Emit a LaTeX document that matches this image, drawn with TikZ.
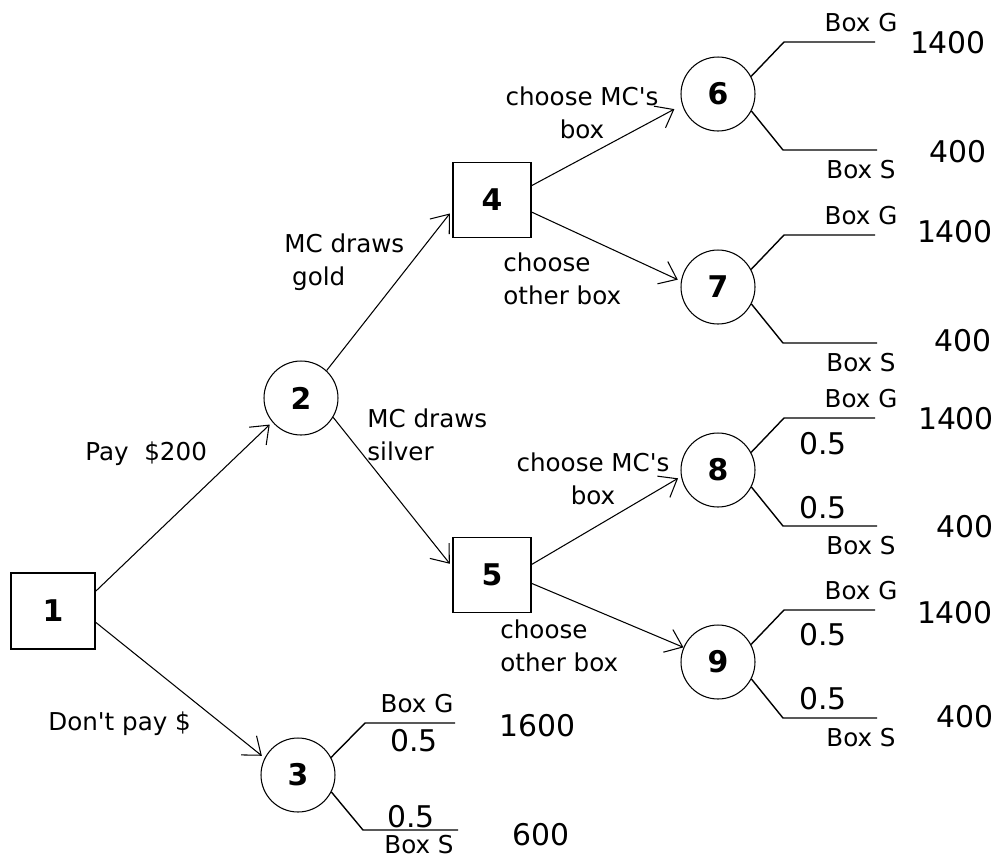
\documentclass[tikz,border=0pt]{standalone}
\usepackage{fontspec}
\setmainfont{DejaVu Sans}
\usetikzlibrary{arrows.meta}

\tikzset{
  decision/.style={draw, line width=1.1pt, minimum width=1.56cm, minimum height=1.5cm,
    inner sep=0pt, font=\fontsize{17}{17}\selectfont\bfseries},
  chance/.style={draw, circle, line width=0.6pt, minimum size=1.48cm,
    inner sep=0pt, font=\fontsize{17}{17}\selectfont\bfseries},
  move/.style={-{Straight Barb[length=9pt,width=14pt]}, line width=0.6pt, shorten >=2pt},
  branch/.style={line width=0.8pt},
  lbl/.style={font=\fontsize{14}{18.5}\selectfont, inner sep=0pt},
  payoff/.style={font=\fontsize{17}{20}\selectfont, inner sep=0pt},
}

\begin{document}
\begin{tikzpicture}[x=0.02cm, y=-0.02cm]
    \useasboundingbox (0,0) rectangle (1001,860);

    % decisions and first chance nodes
    \node[decision, minimum width=1.68cm, minimum height=1.52cm] (n1) at (53,611) {1};
    \node[chance] (n2) at (301,398) {2};
    \node[chance] (n3) at (298,775) {3};
    \node[decision] (n4) at (492,200) {4};
    \node[decision] (n5) at (492,575) {5};

    % last chance nodes, each with a gold and a silver branch
    \foreach \n/\y in {6/94,7/287,8/470,9/662} {
      \node[chance] (n\n) at (718,\y) {\n};
      \draw[branch] (n\n.28) -- (784,\y-52) -- (875,\y-52);
      \draw[branch] (n\n.-27) -- (783,\y+56) -- (877,\y+56);
      \node[lbl] (g\n) at (861,\y-71) {Box G};
      \node[lbl] (s\n) at (861,\y+76) {Box S};
    }

    % branches of node 3
    \draw[branch] (n3.28) -- (365,723) -- (455,723);
    \draw[branch] (n3.-27) -- (363,830) -- (458,830);
    \node[lbl] (g3) at (417,704) {Box G};
    \node[lbl] (s3) at (419,845) {Box S};

    % moves
    \draw[move] (n1.25) -- (n2.220);
    \draw[move] (n1.-15) -- (n3.153);
    \draw[move] (n2.47) -- (n4.195);
    \draw[move] (n2.-31) -- (n5.168);
    \draw[move, shorten >=5pt] (n4.20) -- (n6.197);
    \draw[move] (n4.-17) -- (n7.171);
    \draw[move] (n5.15) -- (n8.190);
    \draw[move, shorten >=0pt] (n5.-12) -- (n9.157);

    % move labels (base is the last line)
    \node[lbl, anchor=base west] (pay) at (85,460) {Pay\ \ \$200};
    \node[lbl, anchor=base west] (nopay) at (48,730) {Don\textquotesingle t pay \$};
    \node[lbl, anchor=base west, align=left] (gold) at (284,285) {MC draws\\\ gold};
    \node[lbl, anchor=base west, align=left] (silver) at (367,460) {MC draws\\silver};
    \node[lbl, anchor=base, align=center] (keep4) at (582,138) {choose MC\textquotesingle s\\box};
    \node[lbl, anchor=base west, align=left] (swap4) at (503,304) {choose\\other box};
    \node[lbl, anchor=base, align=center] (keep5) at (593,504) {choose MC\textquotesingle s\\box};
    \node[lbl, anchor=base west, align=left] (swap5) at (500,671) {choose\\other box};

    % probabilities
    \node[payoff] (p3g) at (414,741) {0.5};
    \node[payoff] (p3s) at (411,817) {0.5};
    \node[payoff] (p8g) at (823,444) {0.5};
    \node[payoff] (p8s) at (823,508) {0.5};
    \node[payoff] (p9g) at (823,635) {0.5};
    \node[payoff] (p9s) at (823,699) {0.5};

    % payoffs
    \node[payoff] (v3g) at (538,726) {1600};
    \node[payoff] (v3s) at (541,835) {600};
    \node[payoff] (v6g) at (948,43) {1400};
    \node[payoff] (v6s) at (958,152) {400};
    \node[payoff] (v7g) at (955,232) {1400};
    \node[payoff] (v7s) at (963,341) {400};
    \node[payoff] (v8g) at (956,419) {1400};
    \node[payoff] (v8s) at (965,527) {400};
    \node[payoff] (v9g) at (955,613) {1400};
    \node[payoff] (v9s) at (965,717) {400};
\end{tikzpicture}
\end{document}
